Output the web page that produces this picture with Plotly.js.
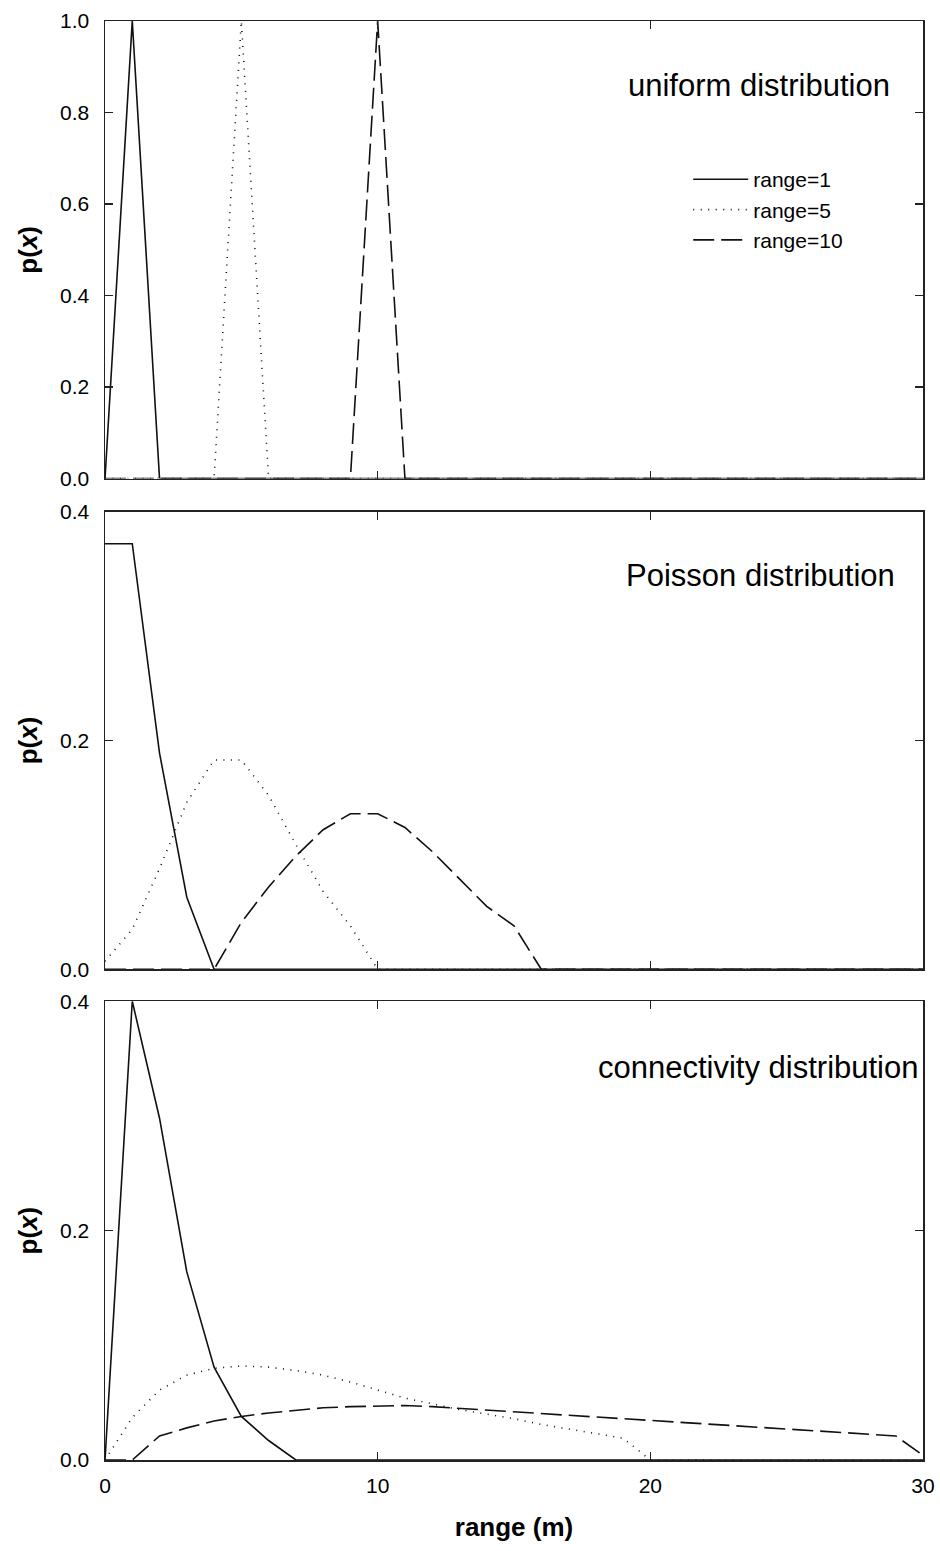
<!DOCTYPE html>
<html>
<head>
<meta charset="utf-8">
<script src="https://cdn.plot.ly/plotly-3.0.1.min.js"></script>
<style>
  html, body { margin: 0; padding: 0; background: #fff; }
  #chart { width: 940px; height: 1551px; }
</style>
</head>
<body>
<div id="chart"></div>
<script>
// Range in metres (shared x values of every curve)
const rangeM = [0,1,2,3,4,5,6,7,8,9,10,11,12,13,14,15,16,17,18,19,20,21,22,23,24,25,26,27,28,29,30];

// Uniform distribution
const uniformR1  = [0,1,0,0,0,0,0,0,0,0,0,0,0,0,0,0,0,0,0,0,0,0,0,0,0,0,0,0,0,0,0];
const uniformR5  = [0,0,0,0,0,1,0,0,0,0,0,0,0,0,0,0,0,0,0,0,0,0,0,0,0,0,0,0,0,0,0];
const uniformR10 = [0,0,0,0,0,0,0,0,0,0,1,0,0,0,0,0,0,0,0,0,0,0,0,0,0,0,0,0,0,0,0];

// Poisson distribution
const poissonR1  = [0.372,0.372,0.189,0.063,0,0,0,0,0,0,0,0,0,0,0,0,0,0,0,0,0,0,0,0,0,0,0,0,0,0,0];
const poissonR5  = [0.007,0.035,0.088,0.146,0.183,0.183,0.152,0.109,0.068,0.038,0,0,0,0,0,0,0,0,0,0,0,0,0,0,0,0,0,0,0,0,0];
const poissonR10 = [0,0,0,0,0,0.041,0.072,0.099,0.122,0.136,0.136,0.124,0.103,0.079,0.055,0.038,0,0,0,0,0,0,0,0,0,0,0,0,0,0,0];

// Connectivity distribution
const connR1  = [0,0.4,0.298,0.164,0.081,0.038,0.017,0,0,0,0,0,0,0,0,0,0,0,0,0,0,0,0,0,0,0,0,0,0,0,0];
const connR5  = [0,0.037,0.061,0.074,0.080,0.082,0.081,0.078,0.074,0.068,0.061,0.054,0.049,0.044,0.040,0.036,0.031,0.027,0.023,0.019,0,0,0,0,0,0,0,0,0,0,0];
const connR10 = [0,0,0.021,0.028,0.034,0.038,0.041,0.0435,0.0455,0.0465,0.047,0.0475,0.0465,0.045,0.0437,0.0422,0.0408,0.0393,0.0378,0.0362,0.0347,0.0332,0.0317,0.0302,0.0287,0.0271,0.0256,0.0241,0.0226,0.021,0.004];

const seriesNames = ['range=1', 'range=5', 'range=10'];
const panelTitles = ['uniform distribution', 'Poisson distribution', 'connectivity distribution'];

const FONT = 'Liberation Sans, Arial, Helvetica, sans-serif';
const INK = '#111';
const dashes = ['solid', '1px,6.5px', '21px,7px'];
const widths = [1.6, 1.6, 1.6];

const panels = [
  { ys: [uniformR1, uniformR5, uniformR10], xa: 'x',  ya: 'y',  legend: true },
  { ys: [poissonR1, poissonR5, poissonR10], xa: 'x2', ya: 'y2', legend: false },
  { ys: [connR1, connR5, connR10],          xa: 'x3', ya: 'y3', legend: false }
];

const traces = [];
panels.forEach(p => {
  p.ys.forEach((vals, i) => {
    traces.push({
      type: 'scatter', mode: 'lines',
      x: rangeM, y: vals,
      xaxis: p.xa, yaxis: p.ya,
      name: seriesNames[i],
      showlegend: p.legend,
      line: { color: INK, width: widths[i], dash: dashes[i] },
      hoverinfo: 'skip'
    });
  });
});

function xAxis(anchor, labels) {
  return {
    anchor: anchor, range: [0, 30], tick0: 0, dtick: 10,
    showline: true, mirror: 'ticks', linecolor: '#222', linewidth: 1.5,
    ticks: 'inside', ticklen: 8, tickwidth: 1.3, tickcolor: '#222',
    showgrid: false, zeroline: false,
    showticklabels: labels, ticklabelstandoff: 6,
    tickfont: { family: FONT, size: 21, color: '#000' }
  };
}
function yAxis(anchor, domain, top) {
  return {
    anchor: anchor, domain: domain, range: [0, top], tick0: 0, dtick: 0.2,
    tickformat: '.1f',
    showline: true, mirror: 'ticks', linecolor: '#222', linewidth: 1.5,
    ticks: 'inside', ticklen: 8, tickwidth: 1.3, tickcolor: '#222',
    showgrid: false, zeroline: false, ticklabelstandoff: 10,
    tickfont: { family: FONT, size: 21, color: '#000' },
    title: { text: 'p(<i>x</i>)', standoff: 15,
             font: { family: FONT, size: 26, color: '#000', weight: 'bold' } }
  };
}

const titleY = [0.955, 0.615, 0.273];
const titleX = [0.962, 0.968, 0.998];

const layout = {
  width: 940, height: 1551,
  margin: { l: 105, r: 17, t: 21, b: 91 },
  paper_bgcolor: '#fff', plot_bgcolor: '#fff',
  font: { family: FONT, color: '#000' },
  xaxis:  xAxis('y', false),
  xaxis2: xAxis('y2', false),
  xaxis3: Object.assign(xAxis('y3', true), {
    title: { text: 'range (m)', standoff: 22,
             font: { family: FONT, size: 26, color: '#000', weight: 'bold' } }
  }),
  yaxis:  yAxis('x',  [0.682, 1.0], 1.0),
  yaxis2: yAxis('x2', [0.341, 0.659], 0.4),
  yaxis3: yAxis('x3', [0.0, 0.3188], 0.4),
  showlegend: true,
  legend: {
    x: 0.713, y: 0.904, xanchor: 'left', yanchor: 'top',
    bgcolor: 'rgba(0,0,0,0)', borderwidth: 0,
    font: { family: FONT, size: 21, color: '#000' },
    itemwidth: 55,
    tracegroupgap: 0
  },
  annotations: panelTitles.map((t, i) => ({
    text: t, xref: 'paper', yref: 'paper',
    x: titleX[i], y: titleY[i], xanchor: 'right', yanchor: 'middle',
    showarrow: false,
    font: { family: FONT, size: 31, color: '#000' }
  }))
};

Plotly.newPlot('chart', traces, layout, { staticPlot: true, displayModeBar: false });
</script>
</body>
</html>
